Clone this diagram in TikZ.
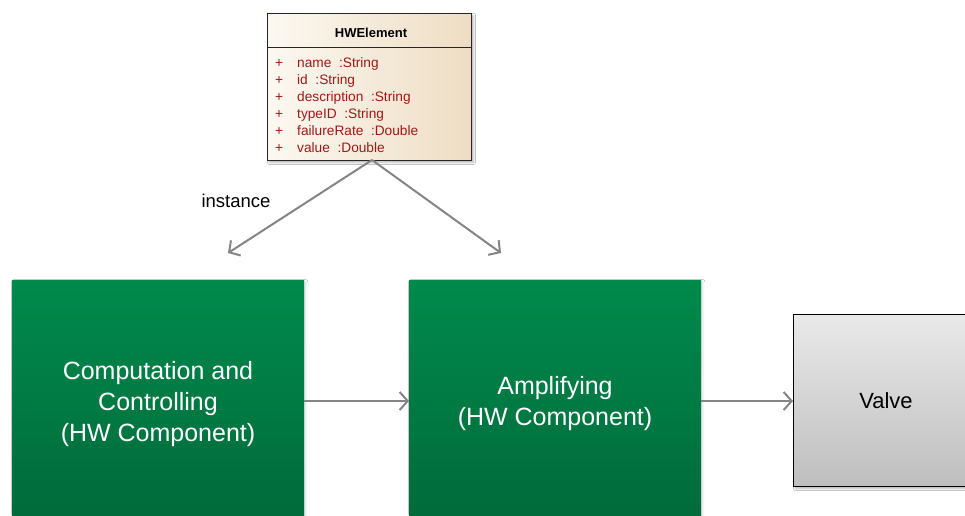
\documentclass[tikz,border=0pt]{standalone}
\usepackage{fontspec}
\setmainfont{Liberation Sans}
\usetikzlibrary{arrows.meta,shadows.blur}
\definecolor{hwtop}{HTML}{008A4C}
\definecolor{hwbot}{HTML}{00693A}
\definecolor{valvetop}{HTML}{E9E9E9}
\definecolor{valvebot}{HTML}{BEBEBE}
\definecolor{umlleft}{HTML}{FCF8F1}
\definecolor{umlright}{HTML}{EEDDC4}
\definecolor{attrred}{HTML}{A01818}
\definecolor{linkgray}{HTML}{858585}
\tikzset{
  hwbox/.style={draw=none, top color=hwtop, bottom color=hwbot,
    minimum width=292pt, minimum height=250pt, anchor=north west,
    blur shadow={shadow xshift=1.5pt, shadow yshift=-1.5pt, shadow blur steps=4, shadow opacity=15}},
  hwtext/.style={text=white, align=center, font=\fontsize{25}{31}\selectfont},
  valvebox/.style={draw=black, line width=1.2pt, top color=valvetop, bottom color=valvebot,
    minimum width=200pt, minimum height=172pt, anchor=north west,
    blur shadow={shadow xshift=2pt, shadow yshift=-2pt, shadow blur steps=4, shadow opacity=30}},
  umlbox/.style={draw=black!85, line width=0.9pt, left color=umlleft, right color=umlright,
    minimum width=204pt, minimum height=147pt, anchor=north west,
    blur shadow={shadow xshift=2pt, shadow yshift=-2pt, shadow blur steps=4, shadow opacity=30}},
  attr/.style={anchor=base west, inner sep=0pt, text=attrred, font=\fontsize{13.7}{15}\selectfont},
  link/.style={draw=linkgray, line width=2pt, -{Straight Barb[length=8pt,width=18pt,line width=2pt]}},
}
\begin{document}
\begin{tikzpicture}[x=1pt,y=-1pt]
  \clip (0,0) rectangle (965,515);
  \fill[white] (0,0) rectangle (965,515);

  % class box
  \node[umlbox] (cls) at (267,13) {};
  \draw[black!85, line width=0.9pt] (267,47) coordinate (sepL) -- (471,47) coordinate (sepR);
  \node[anchor=center, font=\bfseries\fontsize{13}{15}\selectfont] (title) at (371,33) {HWElement};
  \foreach \n/\t [count=\i] in {a1/{name\ \ :String}, a2/{id\ \ :String}, a3/{description\ \ :String},
      a4/{typeID\ \ :String}, a5/{failureRate\ \ :Double}, a6/{value\ \ :Double}} {
    \node[attr] (p\n) at (275,{62+17*(\i-1)+5}) {+};
    \node[attr] (\n) at (297,{62+17*(\i-1)+5}) {\t};
  }

  % component blocks
  \node[hwbox] (comp) at (12,280) {};
  \node[hwtext] (compt) at (158,404) {Computation and\\Controlling\\(HW Component)};
  \node[hwbox] (amp) at (409,280) {};
  \node[hwtext] (ampt) at (555,404) {Amplifying\\(HW Component)};
  \node[valvebox] (valve) at (793,314) {};
  \node[font=\fontsize{22}{24}\selectfont] (valvet) at (886,401) {Valve};

  % instance links
  \coordinate (src) at (372,160);
  \coordinate (t1) at (228,253);
  \coordinate (t2) at (501,253);
  \draw[link] (src) -- (t1);
  \draw[link] (src) -- (t2);
  \node[font=\fontsize{18.5}{20}\selectfont] (inst) at (236,201) {instance};

  % signal flow
  \draw[link] (comp.east |- 0,401) -- (amp.west |- 0,401);
  \draw[link] (amp.east |- 0,401) -- (valve.west |- 0,401);
\end{tikzpicture}
\end{document}
